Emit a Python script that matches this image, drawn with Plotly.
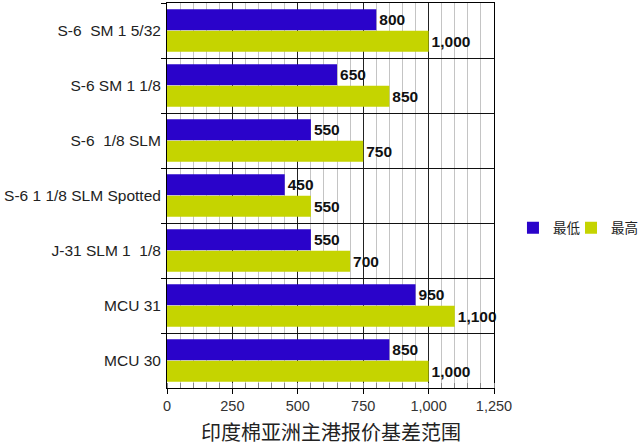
import plotly.graph_objects as go

categories = [
    "S-6\u00a0 SM 1 5/32",
    "S-6 SM 1 1/8",
    "S-6\u00a0 1/8 SLM",
    "S-6 1 1/8 SLM Spotted",
    "J-31 SLM 1\u00a0 1/8",
    "MCU 31",
    "MCU 30",
]
low_values = [800, 650, 550, 450, 550, 950, 850]
high_values = [1000, 850, 750, 550, 700, 1100, 1000]
series_names = ["最低", "最高"]
x_title = "印度棉亚洲主港报价基差范围"

blue = "#2A03CA"
yellow = "#C5D400"
label_font = dict(family="Liberation Sans, Arial, sans-serif", size=15.5, color="#111111")
legend_font = dict(family="'Noto Sans CJK SC', sans-serif", size=13.5, color="#222222")

fig = go.Figure()
fig.add_trace(go.Bar(
    y=categories, x=low_values, name=series_names[0], orientation="h",
    marker=dict(color=blue, line=dict(width=0)),
    texttemplate="<b>%{x:,}</b>", textposition="outside", textfont=label_font,
    cliponaxis=False, legend="legend",
))
fig.add_trace(go.Bar(
    y=categories, x=high_values, name=series_names[1], orientation="h",
    marker=dict(color=yellow, line=dict(width=0)),
    texttemplate="<b>%{x:,}</b>", textposition="outside", textfont=label_font,
    cliponaxis=False, legend="legend2",
))

fig.add_annotation(
    text=x_title, xref="paper", yref="paper", x=0.5, y=-0.114,
    xanchor="center", yanchor="middle", showarrow=False,
    font=dict(family="'Noto Sans CJK SC', sans-serif", size=20, color="#222222"),
)

fig.update_layout(
    width=640, height=446,
    margin=dict(l=167, r=146, t=3, b=58, autoexpand=False),
    paper_bgcolor="white", plot_bgcolor="white",
    barmode="group", bargap=0.22, bargroupgap=0.03,
    font=dict(family="Liberation Sans, Arial, 'Noto Sans CJK SC', sans-serif", color="#222222"),
    showlegend=True,
    legend=dict(
        orientation="h", x=1.058, xanchor="left", y=0.4156, yanchor="middle",
        font=legend_font, itemwidth=30, bgcolor="rgba(0,0,0,0)",
    ),
    legend2=dict(
        orientation="h", x=1.2355, xanchor="left", y=0.4156, yanchor="middle",
        font=legend_font, itemwidth=30, bgcolor="rgba(0,0,0,0)",
    ),
    xaxis=dict(
        range=[0, 1250], dtick=250, tick0=0, tickformat=",",
        showgrid=True, gridcolor="#222222", gridwidth=1,
        showline=True, linecolor="#000000", linewidth=1, mirror=True,
        ticks="outside", ticklen=5, tickcolor="#000000",
        tickfont=dict(family="Liberation Sans, Arial, sans-serif", size=14.5, color="#333333"),
        zeroline=False,
        minor=dict(dtick=50, showgrid=True, gridcolor="#C4C4C4", gridwidth=1,
                   ticks="inside", ticklen=5, tickcolor="#888888"),
    ),
    yaxis=dict(
        autorange="reversed", type="category",
        tickson="boundaries", showgrid=True, gridcolor="#111111", gridwidth=1,
        showline=True, linecolor="#000000", linewidth=1, mirror=True,
        ticks="outside", ticklen=5, tickcolor="#000000",
        tickfont=dict(family="Liberation Sans, Arial, sans-serif", size=15.5, color="#222222"),
        ticklabelstandoff=2,
    ),
)

fig.write_html("out.html")
